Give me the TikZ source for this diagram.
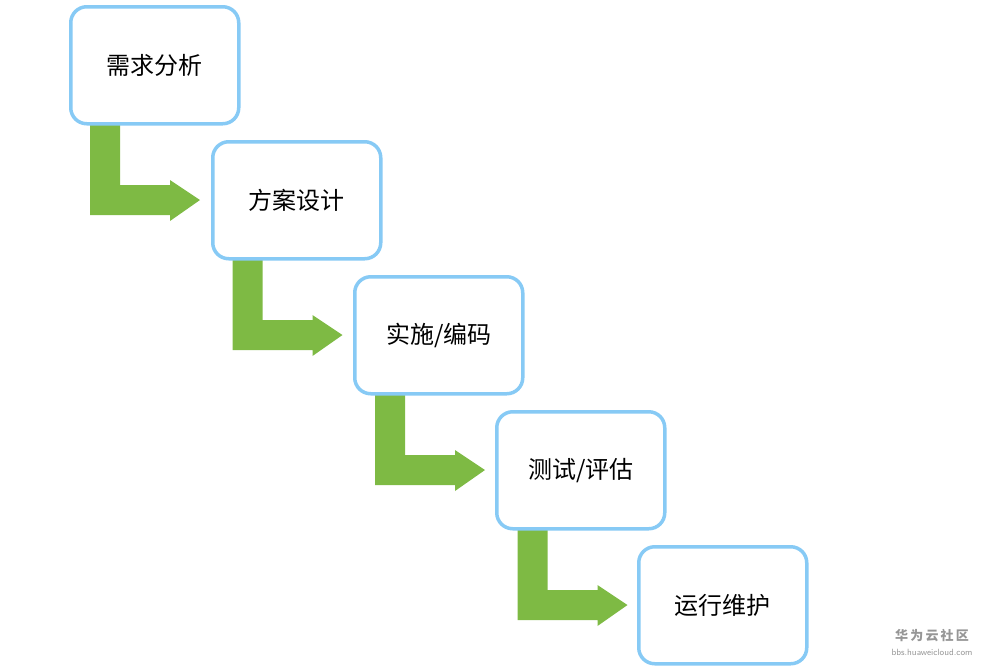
\documentclass[tikz,border=0pt]{standalone}
\usepackage{fontspec}
\newfontfamily\cjk{Noto Sans CJK SC}
\definecolor{boxblue}{RGB}{135,202,245}
\definecolor{arrgreen}{RGB}{126,186,68}
\definecolor{wm}{RGB}{150,150,150}
\begin{document}
\begin{tikzpicture}[x=1pt,y=-1pt,
  stage/.style={draw=boxblue,line width=3.5pt,rounded corners=16pt,fill=white,minimum width=168pt,minimum height=117pt,inner sep=0pt,font=\cjk\fontsize{24}{28}\selectfont,anchor=north west}]
\useasboundingbox (0,0) rectangle (1000,667);
\foreach \i in {0,...,3}{
  \begin{scope}[shift={(142.5*\i,135*\i)}]
  \fill[arrgreen] (90,124) -- (120,124) -- (120,185) -- (170,185) -- (170,180) -- (200,200) -- (170,221) -- (170,215) -- (90,215) -- cycle;
  \end{scope}
}
\node[stage] (a) at (69,5) {需求分析};
\node[stage] (b) at (211,140) {方案设计};
\node[stage] (c) at (353,275) {实施/编码};
\node[stage] (d) at (495,410) {测试/评估};
\node[stage] (e) at (637,545) {运行维护};
\node[text=wm,font=\cjk\bfseries\fontsize{13}{14}\selectfont] (w1) at (932,636) {华\,为\,云\,社\,区};
\node[text=wm,font=\sffamily\fontsize{9}{10}\selectfont] (w2) at (932,652) {bbs.huaweicloud.com};
\end{tikzpicture}
\end{document}
